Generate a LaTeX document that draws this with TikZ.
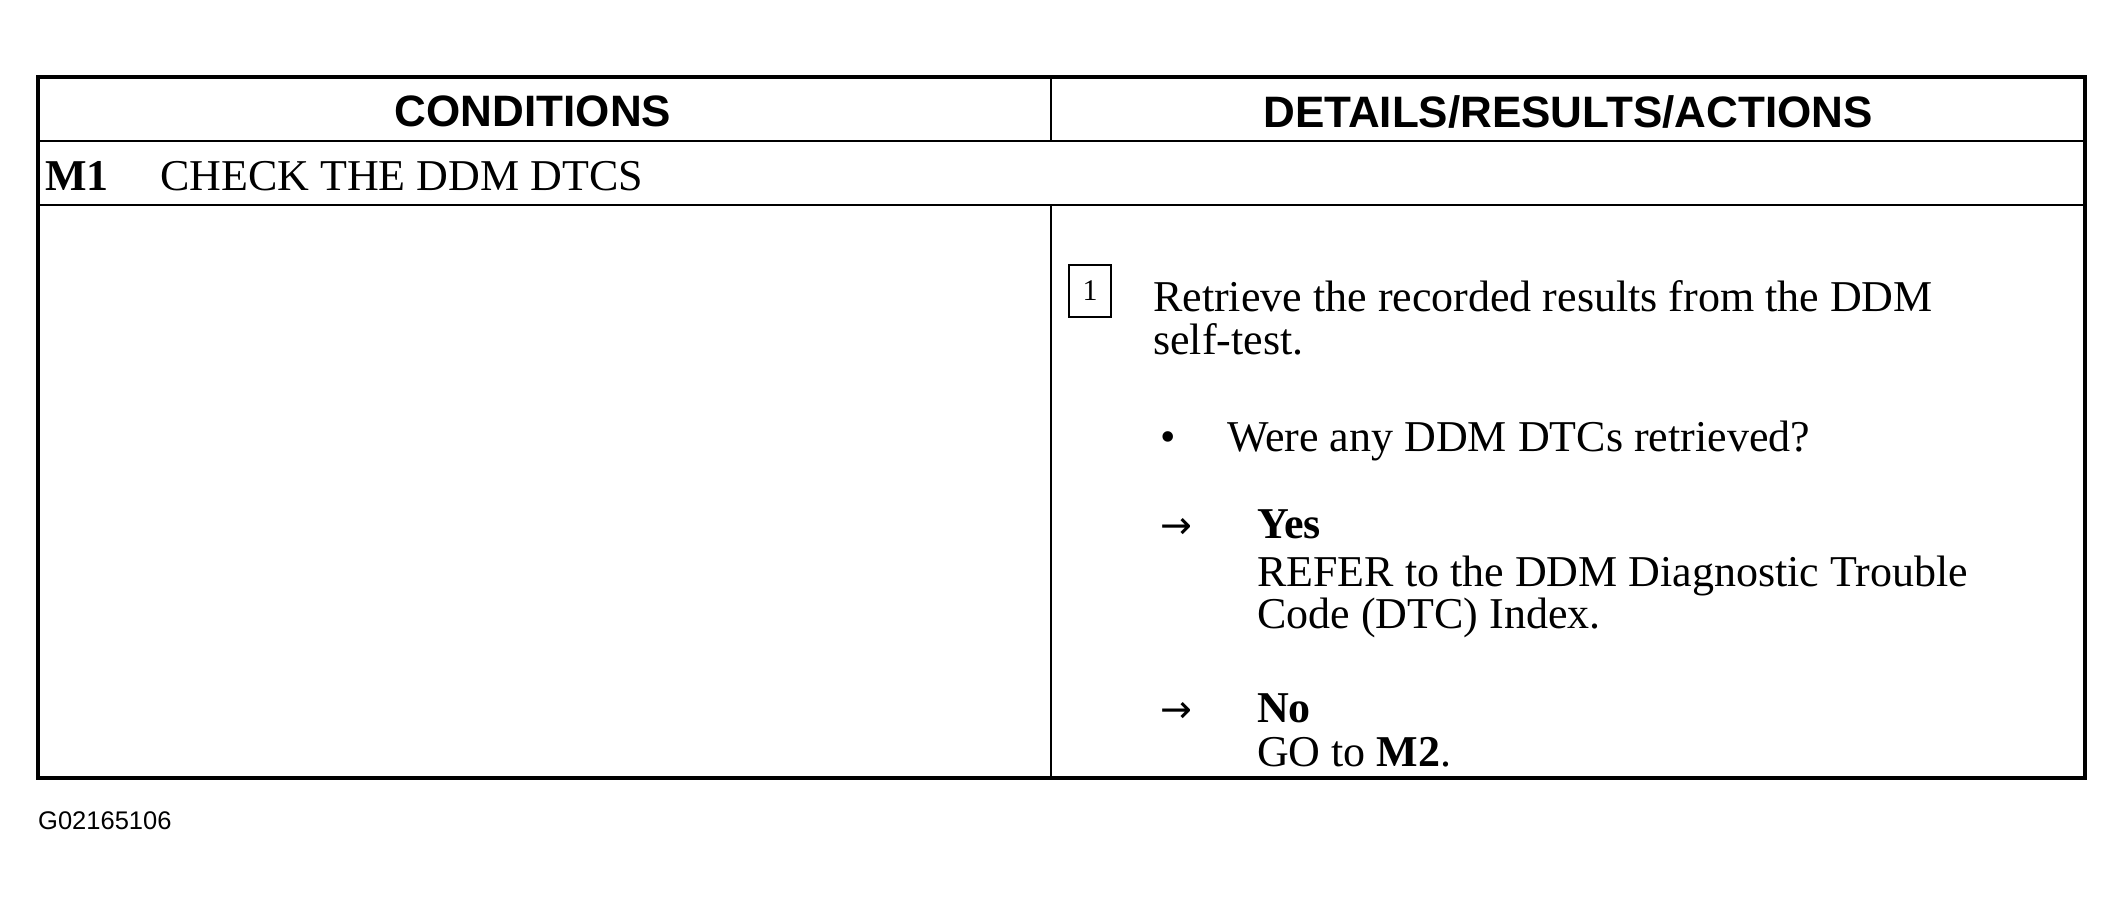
\documentclass[tikz,border=0pt]{standalone}
\usepackage{fontspec}
\setmainfont{Liberation Serif}
\newfontfamily\hdr{Liberation Sans}
\newfontfamily\symf{DejaVu Sans}
\tikzset{
  outer/.style={line width=4pt},
  inner/.style={line width=2.5pt},
  hd/.style={inner sep=0pt, anchor=base, font=\hdr\bfseries\fontsize{44}{44}\selectfont},
  body/.style={inner sep=0pt, anchor=base west, font=\fontsize{44}{44}\selectfont},
  bodyb/.style={body, font=\bfseries\fontsize{44}{44}\selectfont},
  arr/.style={inner sep=0pt, anchor=base west, font=\symf\fontsize{38}{38}\selectfont},
}
\begin{document}
\begin{tikzpicture}[x=1pt,y=-1pt]
\useasboundingbox (0,0) rectangle (2124,899);
% table frame
\coordinate (tl) at (38,77);
\coordinate (br) at (2085,778);
\coordinate (h1l) at (38,141);  \coordinate (h1r) at (2085,141);
\coordinate (h2l) at (38,205);  \coordinate (h2r) at (2085,205);
\coordinate (d1t) at (1051,77); \coordinate (d1b) at (1051,141);
\coordinate (d2t) at (1051,205);\coordinate (d2b) at (1051,778);
\draw[inner] (h1l) -- (h1r);
\draw[inner] (h2l) -- (h2r);
\draw[inner] (d1t) -- (d1b);
\draw[inner] (d2t) -- (d2b);
\draw[outer] (tl) rectangle (br);
% headers
\node[hd] (cond) at (533,126) {CONDITIONS};
\node[hd] (det) at (1568,127) {DETAILS/RESULTS/ACTIONS};
% M1 row
\node[bodyb] (m1) at (45,190) {M1};
\node[body] (m1t) at (160,190) {CHECK THE DDM DTCS};
% step box
\node[draw, line width=1.5pt, minimum width=42pt, minimum height=52pt, inner sep=0pt,
      font=\fontsize{30}{30}\selectfont] (box1) at (1090,291) {1};
\node[body] (l1) at (1153,311) {Retrieve the recorded results from the DDM};
\node[body] (l2) at (1153,354) {self-test.};
\node[body] (bul) at (1160,451) {•};
\node[body] (q) at (1227,451) {Were any DDM DTCs retrieved?};
\node[arr] (a1) at (1160,538) {→};
\node[bodyb] (yes) at (1257,538) {Yes};
\node[body] (r1) at (1257,586) {REFER to the DDM Diagnostic Trouble};
\node[body] (r2) at (1257,628) {Code (DTC) Index.};
\node[arr] (a2) at (1160,722) {→};
\node[bodyb] (no) at (1257,722) {No};
\node[body] (go) at (1257,766) {GO to \textbf{M2}.};
% figure id
\node[inner sep=0pt, anchor=base west, font=\hdr\fontsize{25.5}{25.5}\selectfont] (fig) at (38,829) {G02165106};
\end{tikzpicture}
\end{document}
